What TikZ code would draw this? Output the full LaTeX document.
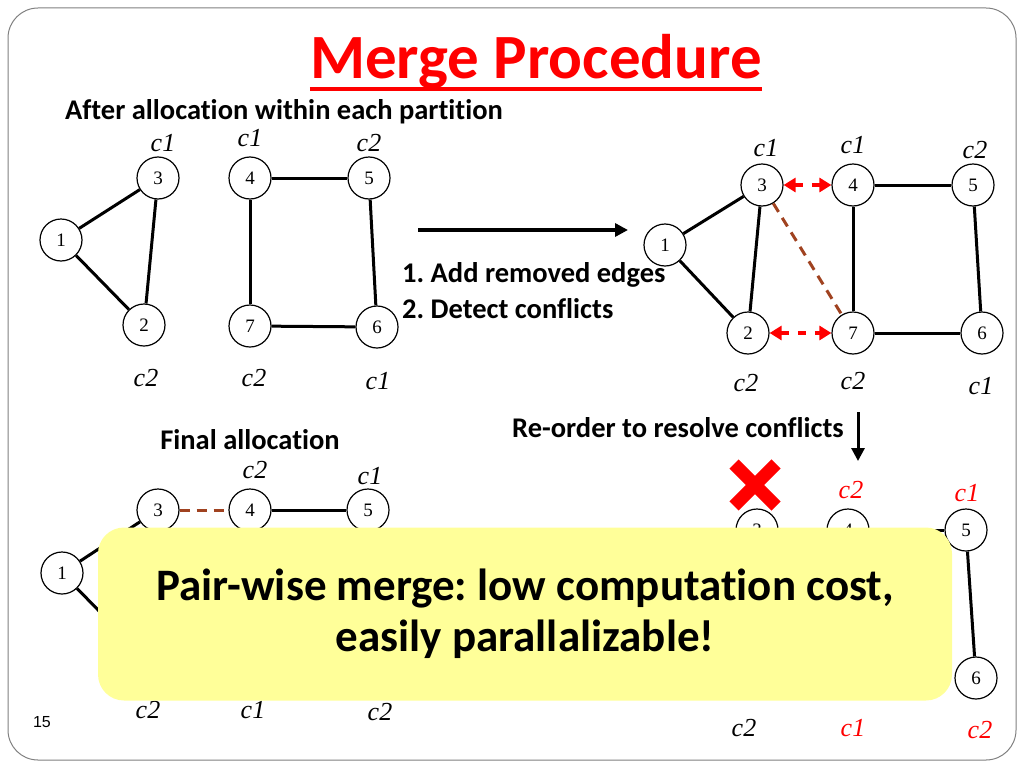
\documentclass[tikz,border=0pt]{standalone}
\usepackage{fontspec}
\setmainfont{Carlito}[Ligatures=NoCommon]
\newfontfamily\numfont{Liberation Serif}
\newfontfamily\pagefont{Liberation Sans}
\usetikzlibrary{arrows.meta,positioning,shapes.misc}
\frenchspacing

\definecolor{titlered}{RGB}{255,0,0}
\definecolor{edgebrown}{RGB}{160,66,32}
\definecolor{noteyellow}{RGB}{255,255,153}

\tikzset{
  vtx/.style={circle, draw, fill=white, line width=1.2pt, minimum size=42pt, inner sep=0pt,
    font=\numfont\fontsize{19}{19}\selectfont},
  col/.style={font=\numfont\itshape\fontsize{26}{26}\selectfont, inner sep=0pt},
  newcol/.style={col, text=titlered},
  edge/.style={line width=3pt},
  removed/.style={draw=edgebrown, line width=3pt, dash pattern=on 10pt off 7pt},
  conflict/.style={draw=titlered, line width=4pt, dash pattern=on 8pt off 9pt,
    {Triangle[length=12pt,width=14pt]}-{Triangle[length=12pt,width=14pt]}},
  caption/.style={font=\bfseries\fontsize{28.5}{28.5}\selectfont, inner sep=0pt},
  bigarrow/.style={line width=3.5pt, -{Triangle[length=13pt,width=13pt]}},
}

\begin{document}
\begin{tikzpicture}[x=1pt, y=-1pt]
  \useasboundingbox (0,0) rectangle (1024,768);
  % slide frame
  \draw[gray, line width=1pt, rounded corners=30pt] (8,8) rectangle (1016,760);

  % title
  \node[font=\bfseries\fontsize{63}{63}\selectfont, text=titlered, inner sep=0pt, anchor=base] (title) at (536,78) {Merge Procedure};
  \draw[titlered, line width=4pt] ([yshift=-11pt]title.base west) -- ([yshift=-11pt]title.base east);
  \node[caption] (after) at (284,112) {After allocation within each partition};

  % graph after allocation
  \node[vtx] (a1) at (61,240) {1};
  \node[vtx] (a3) at (158,178) {3};
  \node[vtx] (a2) at (144,325) {2};
  \node[vtx] (a4) at (250,178) {4};
  \node[vtx] (a5) at (369,178) {5};
  \node[vtx] (a7) at (250,326) {7};
  \node[vtx] (a6) at (377,327) {6};
  \draw[edge] (a1) -- (a3);
  \draw[edge] (a1) -- (a2);
  \draw[edge] (a3) -- (a2);
  \draw[edge] (a4) -- (a5);
  \draw[edge] (a4) -- (a7);
  \draw[edge] (a5) -- (a6);
  \draw[edge] (a7) -- (a6);
  \node[col] (ca3) at (163,143) {c1};
  \node[col] (ca4) at (250,138) {c1};
  \node[col] (ca5) at (369,143) {c2};
  \node[col] (ca2) at (146,378) {c2};
  \node[col] (ca7) at (254,378) {c2};
  \node[col] (ca6) at (378,381) {c1};

  % merge step
  \coordinate (go) at (418,230);
  \coordinate (gone) at (628,230);
  \draw[bigarrow] (go) -- (gone);
  \node[caption, anchor=west] (step1) at (402,275) {1. Add removed edges};
  \node[caption, anchor=west] (step2) at (402,309) {2. Detect conflicts};

  % graph with conflicts
  \node[vtx] (m1) at (665,245) {1};
  \node[vtx] (m3) at (762,185) {3};
  \node[vtx] (m2) at (748,333) {2};
  \node[vtx] (m4) at (853,185) {4};
  \node[vtx] (m5) at (973,185) {5};
  \node[vtx] (m7) at (853,333) {7};
  \node[vtx] (m6) at (982,333) {6};
  \draw[edge] (m1) -- (m3);
  \draw[edge] (m1) -- (m2);
  \draw[edge] (m3) -- (m2);
  \draw[edge] (m4) -- (m5);
  \draw[edge] (m4) -- (m7);
  \draw[edge] (m5) -- (m6);
  \draw[edge] (m7) -- (m6);
  \draw[removed] (m3) -- (m7);
  \draw[conflict] (m3) -- (m4);
  \draw[conflict] (m2) -- (m7);
  \node[col] (cm3) at (766,148) {c1};
  \node[col] (cm4) at (853,145) {c1};
  \node[col] (cm5) at (975,150) {c2};
  \node[col] (cm2) at (746,383) {c2};
  \node[col] (cm7) at (853,381) {c2};
  \node[col] (cm6) at (981,386) {c1};

  % re-order step
  \node[caption] (reorder) at (678,428) {Re-order to resolve conflicts};
  \coordinate (down) at (858,412);
  \coordinate (downto) at (858,461);
  \draw[bigarrow, line width=3pt] (down) -- (downto);

  % final allocation
  \node[caption] (final) at (250,440) {Final allocation};
  \node[vtx] (f1) at (62,573) {1};
  \node[vtx] (f3) at (158,510) {3};
  \node[vtx] (f4) at (250,510) {4};
  \node[vtx] (f5) at (368,510) {5};
  \coordinate (f2) at (144,657);
  \draw[edge] (f1) -- (f3);
  \draw[edge] (f1) -- (f2);
  \draw[removed] (f3) -- (f4);
  \draw[edge] (f4) -- (f5);
  \node[col] (cf4) at (255,470) {c2};
  \node[col] (cf5) at (370,476) {c1};
  \node[col] (cf2) at (148,710) {c2};
  \node[col] (cf7) at (253,710) {c1};
  \node[col] (cf6) at (380,712) {c2};

  % re-ordered graph
  \node[vtx] (r3) at (757,530) {3};
  \node[vtx] (r4) at (848,530) {4};
  \node[vtx] (r5) at (966,530) {5};
  \node[vtx] (r6) at (976,678) {6};
  \draw[edge] (r4) -- (r5);
  \draw[edge] (r5) -- (r6);
  \node[cross out, draw=titlered, line width=13pt, minimum size=29pt] (drop) at (755,485) {};
  \node[newcol] (cr4) at (851,490) {c2};
  \node[newcol] (cr5) at (967,493) {c1};
  \node[col] (cr2) at (744,728) {c2};
  \node[newcol] (cr7) at (853,728) {c1};
  \node[newcol] (cr6) at (980,730) {c2};

  % note
  \node[fill=noteyellow, rounded corners=26pt, minimum width=854pt, minimum height=173pt,
    align=center, font=\bfseries\fontsize{45}{51}\selectfont] (note) at (525,614)
    {Pair-wise merge: low computation cost,\\easily parallalizable!};

  \node[font=\pagefont\fontsize{16}{16}\selectfont] (page) at (42,722) {15};
\end{tikzpicture}
\end{document}
